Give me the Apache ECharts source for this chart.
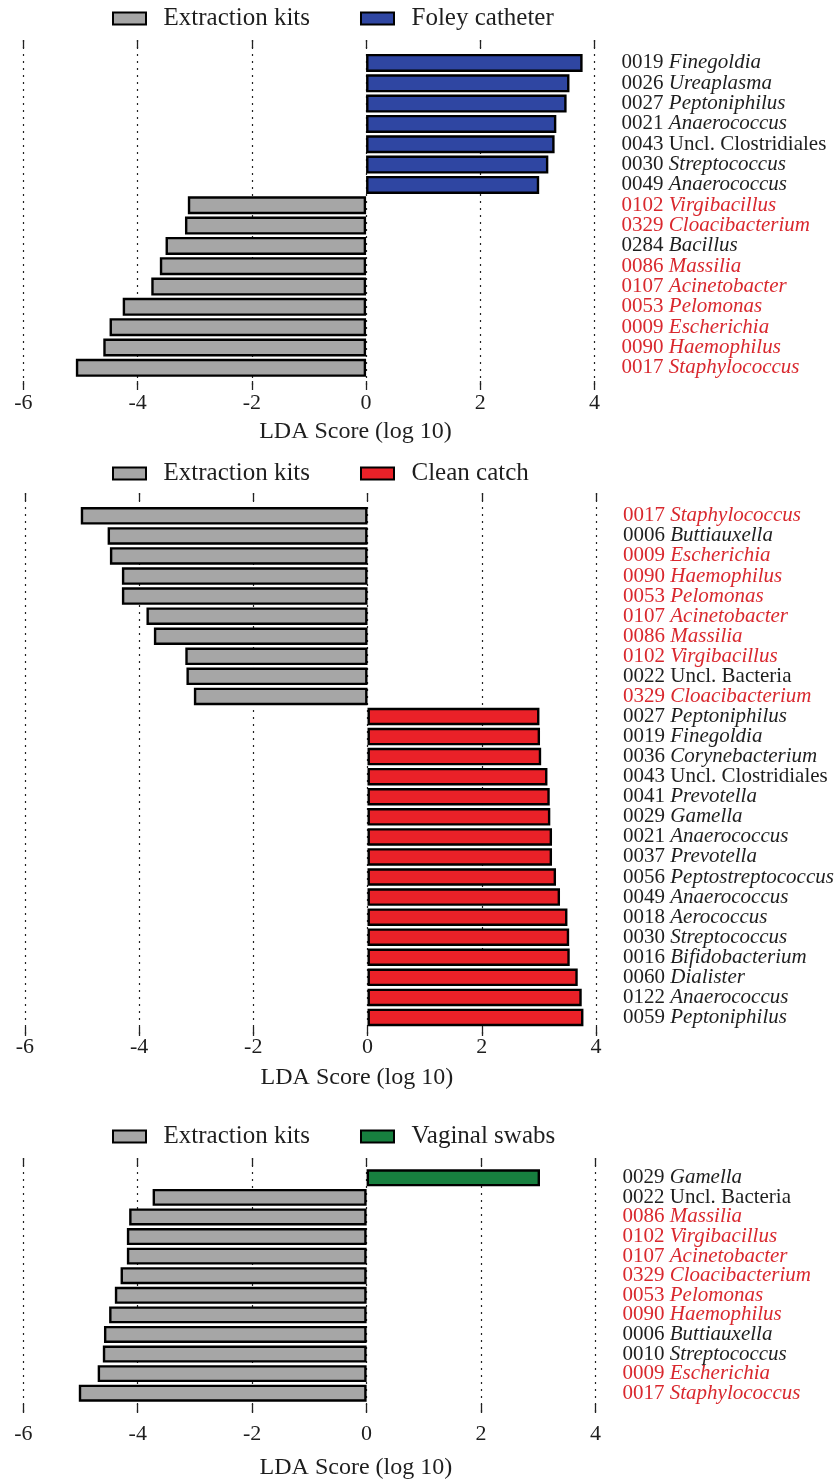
<!DOCTYPE html>
<html>
<head>
<meta charset="utf-8">
<script src="https://cdn.jsdelivr.net/npm/echarts@6/dist/echarts.min.js"></script>
<style>
html,body{margin:0;padding:0;background:#fff;}
#chart{width:837px;height:1482px;}
</style>
</head>
<body>
<div id="chart"></div>
<script>
// ---------- data ----------
const xTicks = [-6, -4, -2, 0, 2, 4];
const axisTitle = 'LDA Score (log 10)';
const groupKits = 'Extraction kits';

const p1Group = 'Foley catheter';
const p1Names = ['0019 Finegoldia', '0026 Ureaplasma', '0027 Peptoniphilus', '0021 Anaerococcus', '0043 Uncl. Clostridiales', '0030 Streptococcus', '0049 Anaerococcus', '0102 Virgibacillus', '0329 Cloacibacterium', '0284 Bacillus', '0086 Massilia', '0107 Acinetobacter', '0053 Pelomonas', '0009 Escherichia', '0090 Haemophilus', '0017 Staphylococcus'];
const p1Values = [3.79, 3.56, 3.51, 3.33, 3.30, 3.19, 3.03, -3.12, -3.17, -3.51, -3.61, -3.76, -4.26, -4.49, -4.60, -5.08];
const p1Red = [0, 0, 0, 0, 0, 0, 0, 1, 1, 0, 1, 1, 1, 1, 1, 1];

const p2Group = 'Clean catch';
const p2Names = ['0017 Staphylococcus', '0006 Buttiauxella', '0009 Escherichia', '0090 Haemophilus', '0053 Pelomonas', '0107 Acinetobacter', '0086 Massilia', '0102 Virgibacillus', '0022 Uncl. Bacteria', '0329 Cloacibacterium', '0027 Peptoniphilus', '0019 Finegoldia', '0036 Corynebacterium', '0043 Uncl. Clostridiales', '0041 Prevotella', '0029 Gamella', '0021 Anaerococcus', '0037 Prevotella', '0056 Peptostreptococcus', '0049 Anaerococcus', '0018 Aerococcus', '0030 Streptococcus', '0016 Bifidobacterium', '0060 Dialister', '0122 Anaerococcus', '0059 Peptoniphilus'];
const p2Values = [-5.02, -4.55, -4.51, -4.30, -4.30, -3.87, -3.74, -3.19, -3.17, -3.04, 3.01, 3.02, 3.04, 3.15, 3.19, 3.20, 3.23, 3.23, 3.30, 3.37, 3.50, 3.53, 3.54, 3.68, 3.75, 3.78];
const p2Red = [1, 0, 1, 1, 1, 1, 1, 1, 0, 1, 0, 0, 0, 0, 0, 0, 0, 0, 0, 0, 0, 0, 0, 0, 0, 0];

const p3Group = 'Vaginal swabs';
const p3Names = ['0029 Gamella', '0022 Uncl. Bacteria', '0086 Massilia', '0102 Virgibacillus', '0107 Acinetobacter', '0329 Cloacibacterium', '0053 Pelomonas', '0090 Haemophilus', '0006 Buttiauxella', '0010 Streptococcus', '0009 Escherichia', '0017 Staphylococcus'];
const p3Values = [3.03, -3.74, -4.15, -4.19, -4.19, -4.30, -4.40, -4.50, -4.59, -4.61, -4.70, -5.03];
const p3Red = [0, 0, 1, 1, 1, 1, 1, 1, 0, 0, 1, 1];

// ---------- styles ----------
const FONT = '"Liberation Serif", "Times New Roman", serif';
const GRAY = '#a6a6a6';
const BLUE = '#2f46a2';
const RED = '#ea2128';
const GREEN = '#17803f';
const TXT = '#1e1e1e';
const TXTRED = '#d9282e';

const panels = [
  {group: p1Group, color: BLUE, names: p1Names, values: p1Values, red: p1Red,
   left: 23.3, right: 242.4, lineTop: 40, lineBottom: 390, barTop: 52.8, barBottom: 378,
   barWidth: 18, legendTop: 6, labelMargin: 2, nameGap: 30},
  {group: p2Group, color: RED, names: p2Names, values: p2Values, red: p2Red,
   left: 24.8, right: 241, lineTop: 493, lineBottom: 1036, barTop: 505.8, barBottom: 1027.5,
   barWidth: 17.5, legendTop: 461, labelMargin: 0, nameGap: 30},
  {group: p3Group, color: GREEN, names: p3Names, values: p3Values, red: p3Red,
   left: 23.3, right: 241.5, lineTop: 1158, lineBottom: 1413, barTop: 1168, barBottom: 1403,
   barWidth: 17, legendTop: 1124, labelMargin: 10, nameGap: 43}
];

const grid = [], xAxis = [], yAxis = [], series = [], legend = [];

panels.forEach((p, k) => {
  const gLine = grid.length;
  grid.push({left: p.left, right: p.right, top: p.lineTop, height: p.lineBottom - p.lineTop, outerBoundsMode: 'none', containLabel: false});
  const gBar = grid.length;
  grid.push({left: p.left, right: p.right, top: p.barTop, height: p.barBottom - p.barTop, outerBoundsMode: 'none', containLabel: false});

  xAxis.push({
    type: 'value', gridIndex: gLine, min: xTicks[0], max: xTicks[xTicks.length - 1], interval: 2,
    position: 'bottom',
    axisLine: {show: false},
    axisTick: {show: true, inside: true, length: 9, lineStyle: {color: '#222', width: 1.3}},
    splitLine: {show: true, lineStyle: {color: '#222', width: 1.2, type: [2, 5]}},
    axisLabel: {show: true, margin: p.labelMargin, fontFamily: FONT, fontSize: 22, color: TXT},
    name: axisTitle, nameLocation: 'middle', nameGap: p.nameGap,
    nameTextStyle: {fontFamily: FONT, fontSize: 24, color: TXT, padding: [0, 0, 0, 93]}
  });
  xAxis.push({
    type: 'value', gridIndex: gLine, min: xTicks[0], max: xTicks[xTicks.length - 1], interval: 2,
    position: 'top',
    axisLine: {show: false},
    axisTick: {show: true, inside: true, length: 8, lineStyle: {color: '#222', width: 1.3}},
    splitLine: {show: false},
    axisLabel: {show: false}
  });
  yAxis.push({type: 'value', gridIndex: gLine, show: false, min: 0, max: 1});

  const xBar = xAxis.length;
  xAxis.push({type: 'value', gridIndex: gBar, min: xTicks[0], max: xTicks[xTicks.length - 1], show: false});
  const yBar = yAxis.length;
  yAxis.push({
    type: 'category', gridIndex: gBar, data: p.names, inverse: true, position: 'right',
    axisLine: {show: false}, axisTick: {show: false}, splitLine: {show: false},
    axisLabel: {
      show: true, align: 'left', margin: 27, interval: 0,
      formatter: (val, idx) => {
        const sp = val.indexOf(' ');
        const id = val.slice(0, sp + 1);
        const rest = val.slice(sp + 1);
        const r = p.red[idx] ? 'r' : '';
        const italic = rest.indexOf('Uncl.') !== 0;
        return '{n' + r + '|' + id + '}{' + (italic ? 'i' : 'n') + r + '|' + rest + '}';
      },
      rich: {
        n: {fontFamily: FONT, fontSize: 21, color: TXT},
        i: {fontFamily: FONT, fontSize: 21, color: TXT, fontStyle: 'italic'},
        nr: {fontFamily: FONT, fontSize: 21, color: TXTRED},
        ir: {fontFamily: FONT, fontSize: 21, color: TXTRED, fontStyle: 'italic'}
      }
    }
  });

  const stackId = 'panel' + k;
  series.push({
    name: groupKits, type: 'bar', xAxisIndex: xBar, yAxisIndex: yBar, stack: stackId,
    barWidth: p.barWidth,
    itemStyle: {color: GRAY, borderColor: '#000', borderWidth: 2.4},
    data: p.values.map(v => v < 0 ? v : '-'),
    animation: false
  });
  series.push({
    name: p.group, type: 'bar', xAxisIndex: xBar, yAxisIndex: yBar, stack: stackId,
    barWidth: p.barWidth,
    itemStyle: {color: p.color, borderColor: '#000', borderWidth: 2.4},
    data: p.values.map(v => v > 0 ? v : '-'),
    animation: false
  });

  legend.push({
    data: [groupKits, p.group], left: 112, top: p.legendTop, padding: 0,
    itemWidth: 33, itemHeight: 12, itemGap: 50, icon: 'rect',
    selectedMode: false,
    formatter: n => '  ' + n,
    textStyle: {fontFamily: FONT, fontSize: 25, color: TXT}
  });
});

const chart = echarts.init(document.getElementById('chart'), null, {renderer: 'canvas'});
chart.setOption({
  animation: false,
  backgroundColor: '#fff',
  legend, grid, xAxis, yAxis, series
});
</script>
</body>
</html>
